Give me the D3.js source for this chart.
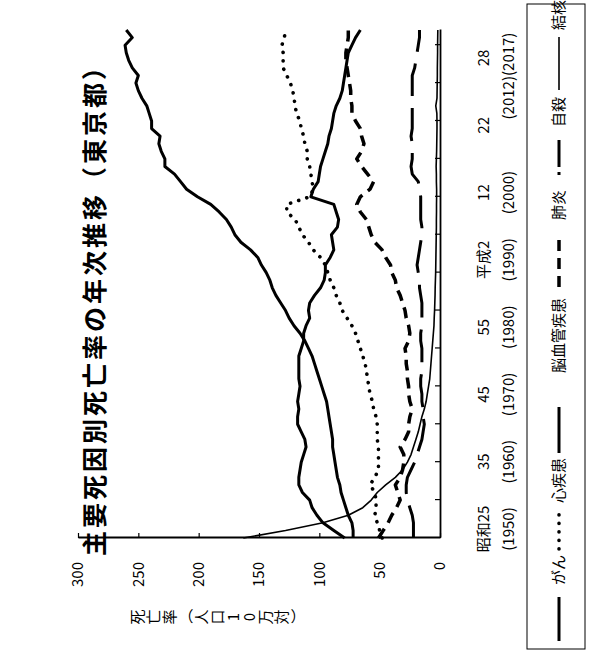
<!DOCTYPE html>
<html>
<head>
<meta charset="utf-8">
<script src="https://cdn.jsdelivr.net/npm/d3@7"></script>
<style>
  body { margin: 0; background: #fff; }
  text { font-family: "Noto Sans CJK JP", "Noto Sans", sans-serif; fill: #000; }
</style>
</head>
<body>
<div id="chart"></div>
<script>
// 主要死因別死亡率（人口10万対）, 東京都, 1950-2017
var years = d3.range(1950, 2018);

var cancer = [72, 72, 73, 76, 78, 80, 82, 83, 85, 86,
  87, 88, 89, 89, 90, 91, 92, 93, 94, 96,
  98, 100, 102, 104, 106, 109, 112, 116, 121, 125,
  128, 132, 136, 139, 141, 144, 148, 151, 157, 165,
  170, 173, 177, 183, 190, 201, 210, 215, 220, 228,
  228, 231, 233, 232, 239, 239, 241, 243, 247, 250,
  252, 250, 255, 258, 260, 261, 255, 260];

var heart = [48, 50, 52, 54, 53, 53, 54, 58, 54, 51,
  51, 51, 51, 52, 52, 52, 53, 55, 56, 58,
  59, 60, 61, 62, 64, 66, 68, 70, 73, 77,
  81, 83, 86, 88, 91, 93, 95, 99, 105, 109,
  114, 117, 120, 127, 127, 108, 105, 106, 107, 108,
  110, 110, 112, 113, 115, 116, 119, 120, 121, 122,
  124, 127, 130, 130, 130, 131, 129, 128];

var cerebro = [79, 88, 97, 102, 106, 108, 114, 117, 117, 116,
  115, 113, 111, 112, 115, 118, 118, 117, 118, 117,
  116, 117, 117, 117, 117, 115, 113, 113, 111, 108,
  109, 108, 104, 99, 96, 95, 95, 91, 88, 89,
  90, 85, 84, 86, 88, 107, 105, 101, 100, 99,
  97, 95, 93, 92, 90, 89, 88, 86, 83, 81,
  80, 79, 78, 77, 76, 73, 70, 66];

var pneumonia = [51, 47, 43, 40, 36, 33, 35, 37, 33, 31,
  30, 30, 33, 29, 26, 26, 25, 23, 25, 26,
  26, 27, 27, 28, 28, 29, 26, 25, 26, 28,
  29, 31, 33, 36, 37, 40, 41, 45, 48, 54,
  57, 59, 61, 66, 69, 66, 58, 55, 60, 65,
  69, 65, 63, 65, 66, 70, 73, 73, 74, 74,
  75, 76, 77, 78, 78, 77, 76, 76];

var suicide = [22, 22, 22, 23, 25, 27, 28, 28, 27, 24,
  21, 19, 17, 15, 14, 13, 14, 14, 15, 15,
  16, 16, 15, 15, 15, 15, 16, 16, 15, 15,
  15, 15, 16, 17, 17, 18, 19, 18, 17, 16,
  15, 15, 16, 16, 16, 16, 17, 18, 23, 24,
  23, 23, 23, 24, 23, 23, 23, 23, 23, 23,
  23, 23, 21, 20, 19, 18, 17, 17];

var tb = [163, 128, 97, 76, 64, 57, 52, 45, 37, 31,
  27, 24, 22, 20, 18, 16.5, 15, 13, 11.5, 10.5,
  9.5, 8.5, 8, 7.5, 7, 6.5, 6, 5.5, 5, 4.8,
  4.5, 4.3, 4.1, 4, 3.8, 3.6, 3.5, 3.4, 3.3, 3.2,
  3.1, 3, 3, 2.9, 2.9, 2.8, 2.8, 3, 3, 3.2,
  3, 2.8, 2.7, 2.6, 2.5, 2.5, 2.6, 3.5, 2.5, 2.4,
  2.3, 2.2, 2.2, 2.1, 2, 2, 1.9, 1.8];

var seriesNames = ["がん", "心疾患", "脳血管疾患", "肺炎", "自殺", "結核"];
var seriesValues = [cancer, heart, cerebro, pneumonia, suicide, tb];

var yTicks = [0, 50, 100, 150, 200, 250, 300];
var xTicks = [1955, 1960, 1965, 1970, 1975, 1980, 1985, 1990, 1995, 2000, 2005, 2010, 2015];
var eraLabels = ["昭和25", "35", "45", "55", "平成2", "12", "22", "28"];
var westLabels = ["(1950)", "(1960)", "(1970)", "(1980)", "(1990)", "(2000)", "", "(2012)(2017)"];

var title = "主要死因別死亡率の年次推移（東京都）";
var yTitle = "死亡率（人口10万対）";

// line look per series; l0/l1/t0 = where the legend sample and its text sit along the row
var looks = {
  "がん":       { w: 3,   dash: null,        cap: "butt",  l0: 12,  l1: 56,  t0: 68 },
  "心疾患":     { w: 3.6, dash: "0.1,8.4",   cap: "round", l0: 104, l1: 143, t0: 150 },
  "脳血管疾患": { w: 3,   dash: null,        cap: "butt",  l0: 200, l1: 246, t0: 280 },
  "肺炎":       { w: 3.5, dash: "11,7",      cap: "butt",  l0: 366, l1: 420, t0: 433 },
  "自殺":       { w: 3,   dash: "33,12",     cap: "butt",  l0: 478, l1: 513, t0: 526, legDash: "3,5,27" },
  "結核":       { w: 1.6, dash: null,        cap: "butt",  l0: 563, l1: 616, t0: 623 }
};

// the whole chart is drawn in a 653 x 589 frame and turned a quarter to the left
var svg = d3.select("#chart").append("svg")
  .attr("width", 589)
  .attr("height", 653);
var g = svg.append("g")
  .attr("transform", "translate(0,653) rotate(-90)");

var x = d3.scaleLinear().domain([1950, 2017]).range([115, 623]);
var y = d3.scaleLinear().domain([0, 300]).range([440, 78]);

// title
g.append("text")
  .attr("x", 349)
  .attr("y", 104)
  .attr("text-anchor", "middle")
  .style("font-size", "25px")
  .style("font-weight", "bold")
  .style("letter-spacing", "3px")
  .text(title);

// axes
var yAxis = d3.axisLeft(y)
  .tickValues(yTicks)
  .tickSizeInner(-5)
  .tickSizeOuter(0)
  .tickPadding(24);
var yg = g.append("g")
  .attr("transform", "translate(" + x(1950) + ",0)")
  .call(yAxis);
yg.selectAll("text").style("font-size", "15px");

var xAxis = d3.axisBottom(x)
  .tickValues(xTicks)
  .tickSizeInner(-5)
  .tickSizeOuter(0)
  .tickFormat("");
var xg = g.append("g")
  .attr("transform", "translate(0," + y(0) + ")")
  .call(xAxis);

g.selectAll(".domain").attr("stroke", "#000").attr("stroke-width", 1.8);
g.selectAll(".tick line").attr("stroke", "#000").attr("stroke-width", 1.2);

// category labels under the time axis (two rows)
var labelPos = d3.scalePoint().domain(d3.range(eraLabels.length)).range([124, 595]);
g.selectAll(".era").data(eraLabels).enter().append("text")
  .attr("class", "era")
  .attr("x", function (d, i) { return labelPos(i); })
  .attr("y", y(0) + 49)
  .attr("text-anchor", "middle")
  .style("font-size", "15px")
  .text(function (d) { return d; });
g.selectAll(".west").data(westLabels).enter().append("text")
  .attr("class", "west")
  .attr("x", function (d, i) { return i == westLabels.length - 1 ? labelPos(i) - 18 : labelPos(i); })
  .attr("y", y(0) + 74)
  .attr("text-anchor", "middle")
  .style("font-size", "15px")
  .text(function (d) { return d; });

// vertical axis title, written top to bottom
var yTitleChars = yTitle.split("");
var yt = g.append("g").attr("transform", "translate(36,0)");
yt.selectAll("text").data(yTitleChars).enter().append("text")
  .attr("transform", function (d, i) {
    var cy = 138 + i * 16;
    if (d == "（" || d == "）") return "translate(0," + cy + ") rotate(90)";
    return "translate(0," + cy + ")";
  })
  .attr("text-anchor", "middle")
  .attr("dy", "0.35em")
  .style("font-size", "15px")
  .text(function (d) { return d; });

// lines
var line = d3.line()
  .x(function (d, i) { return x(years[i]); })
  .y(function (d) { return y(d); });

g.selectAll(".series").data(seriesValues).enter().append("path")
  .attr("class", "series")
  .attr("d", line)
  .attr("fill", "none")
  .attr("stroke", "#000")
  .attr("stroke-linejoin", "round")
  .attr("stroke-linecap", function (d, i) { return looks[seriesNames[i]].cap; })
  .attr("stroke-width", function (d, i) { return looks[seriesNames[i]].w; })
  .attr("stroke-dasharray", function (d, i) { return looks[seriesNames[i]].dash; });

// legend in a single row inside a box
var lg = g.append("g");
lg.append("rect")
  .attr("x", 4).attr("y", 527)
  .attr("width", 645).attr("height", 58)
  .attr("fill", "none")
  .attr("stroke", "#000")
  .attr("stroke-width", 1);

seriesNames.forEach(function (name) {
  var lk = looks[name];
  lg.append("line")
    .attr("x1", lk.l0).attr("x2", lk.l1)
    .attr("y1", 559).attr("y2", 559)
    .attr("stroke", "#000")
    .attr("stroke-width", lk.w)
    .attr("stroke-linecap", lk.cap)
    .attr("stroke-dasharray", lk.legDash || lk.dash);
  lg.append("text")
    .attr("x", lk.t0).attr("y", 564)
    .style("font-size", "15px")
    .text(name);
});
</script>
</body>
</html>
